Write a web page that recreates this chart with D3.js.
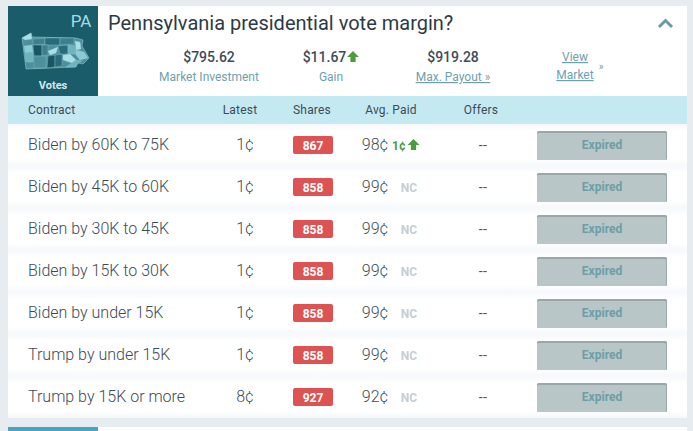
<!DOCTYPE html>
<html>
<head>
<meta charset="utf-8">
<script src="https://cdn.jsdelivr.net/npm/d3@7"></script>
<style>
  html, body { margin: 0; padding: 0; background: #e6ecef; overflow: hidden; }
  text { font-family: Roboto, sans-serif; font-variant-ligatures: none; }
</style>
</head>
<body>
<svg id="svg"></svg>
<script>
// Table contents
const columns = ["Contract", "Latest", "Shares", "Avg. Paid", "Offers"];
const contracts = ["Biden by 60K to 75K", "Biden by 45K to 60K", "Biden by 30K to 45K", "Biden by 15K to 30K", "Biden by under 15K", "Trump by under 15K", "Trump by 15K or more"];
const latest = [1, 1, 1, 1, 1, 1, 8];
const shares = [867, 858, 858, 858, 858, 858, 927];
const avgPaid = [98, 99, 99, 99, 99, 99, 92];
const change = ["1¢", "NC", "NC", "NC", "NC", "NC", "NC"];
const summaryValues = ["$795.62", "$11.67", "$919.28"];
const summaryLabels = ["Market Investment", "Gain", "Max. Payout »"];

const width = 693;
const height = 431;
const svg = d3.select("#svg").attr("width", width).attr("height", height).style("display", "block");

const dark = "#3d4b57";
const teal = "#6f9fae";
const green = "#4a9c3f";

// Soft row shading
const defs = svg.append("defs");
const grad = defs.append("linearGradient").attr("id", "rowShade").attr("x1", 0).attr("x2", 0).attr("y1", 0).attr("y2", 1);
grad.append("stop").attr("offset", "0%").attr("stop-color", "#f7f8fb");
grad.append("stop").attr("offset", "18%").attr("stop-color", "#ffffff");
grad.append("stop").attr("offset", "82%").attr("stop-color", "#ffffff");
grad.append("stop").attr("offset", "100%").attr("stop-color", "#f7f8fb");

// Card
svg.append("rect").attr("x", 8).attr("y", 6).attr("width", 679).attr("height", 412).attr("fill", "#fff");

// Thumbnail
svg.append("rect").attr("x", 8).attr("y", 6).attr("width", 90).attr("height", 90).attr("fill", "#1a5c69");
svg.append("text").attr("x", 81).attr("y", 27).attr("text-anchor", "middle")
    .style("font-size", "17px").style("fill", "#a5dbe4").text("PA");
svg.append("text").attr("x", 53).attr("y", 89).attr("text-anchor", "middle")
    .style("font-size", "11px").style("font-weight", 700).style("fill", "#d5e8ec").text("Votes");

// State outline with county blocks
const map = svg.append("g");
map.append("path")
    .attr("d", "M22,38 L31,33 L32,37 L76,38 L83,40 L82,46 L89,58 L83,64 L78,63 L76,67 L26,69 Z")
    .attr("fill", "#4d8f9c").attr("stroke", "#a5d3dc").attr("stroke-width", 0.5);
const blocks = [
    ["M22,38 L31,33 L32,39 L25,40 Z", "#a9dfe7"],
    ["M24,46 L32,45 L33,52 L25,53 Z", "#8ccbd6"],
    ["M25,53 L33,52 L33,62 L26,62 Z", "#6fb3bf"],
    ["M33,39 L45,38 L45,44 L33,45 Z", "#3f7f8d"],
    ["M33,45 L42,45 L42,56 L34,56 Z", "#1a5563"],
    ["M45,38 L60,38 L60,45 L45,45 Z", "#2a6b79"],
    ["M42,45 L48,45 L48,55 L42,56 Z", "#3f7f8d"],
    ["M48,51 L58,47 L56,53 L50,55 Z", "#a9dfe7"],
    ["M34,56 L46,56 L46,68 L34,68 Z", "#4d8f9c"],
    ["M48,56 L55,55 L55,67 L47,68 Z", "#1a5563"],
    ["M55,55 L62,54 L62,66 L55,67 Z", "#2a6b79"],
    ["M60,38 L74,38 L74,44 L60,45 Z", "#3f7f8d"],
    ["M58,46 L68,45 L68,54 L60,54 Z", "#2a6b79"],
    ["M75,41 L80,42 L81,49 L76,50 Z", "#a9dfe7"],
    ["M68,45 L76,46 L76,54 L68,54 Z", "#6fb3bf"],
    ["M76,50 L84,52 L88,58 L80,60 L76,55 Z", "#8ccbd6"],
    ["M63,55 L70,54 L76,60 L72,63 L63,60 Z", "#a9dfe7"],
    ["M72,63 L76,60 L82,61 L78,63 L75,67 L66,67 Z", "#6fb3bf"]
];
map.selectAll("path.block").data(blocks).join("path")
    .attr("class", "block")
    .attr("d", d => d[0])
    .attr("fill", d => d[1])
    .attr("stroke", "#8fc4ce")
    .attr("stroke-width", 0.4);

// Title and chevron
svg.append("text").attr("x", 108).attr("y", 30)
    .style("font-size", "20px").style("fill", "#2c3a47")
    .text("Pennsylvania presidential vote margin?");
svg.append("path").attr("d", "M659,27 L665.5,20.5 L672,27")
    .attr("fill", "none").attr("stroke", "#6b9ba6").attr("stroke-width", 3);

// Summary block
const summaryX = d3.scalePoint().domain(summaryLabels).range([209, 453]);
const summary = svg.append("g").selectAll("g").data(summaryLabels).join("g");
summary.append("text")
    .attr("x", d => d === "Gain" ? summaryX(d) - 6.5 : summaryX(d))
    .attr("y", 62).attr("text-anchor", "middle")
    .style("font-size", "14px").style("font-weight", 500).style("fill", dark)
    .text((d, i) => summaryValues[i]);
summary.append("text")
    .attr("x", d => summaryX(d))
    .attr("y", 81).attr("text-anchor", "middle")
    .style("font-size", "12px").style("fill", teal)
    .style("text-decoration", d => d.startsWith("Max") ? "underline" : "none")
    .text(d => d);

function upArrow(g, cx, top) {
    g.append("path")
        .attr("d", `M${cx},${top} L${cx + 6},${top + 6} L${cx + 2.6},${top + 6} L${cx + 2.6},${top + 11} L${cx - 2.6},${top + 11} L${cx - 2.6},${top + 6} L${cx - 6},${top + 6} Z`)
        .attr("fill", green);
}
upArrow(svg, 353, 51);

// View Market link
svg.append("text").attr("x", 575).attr("y", 61).attr("text-anchor", "middle")
    .style("font-size", "12px").style("fill", teal).style("text-decoration", "underline").text("View");
svg.append("text").attr("x", 575).attr("y", 79).attr("text-anchor", "middle")
    .style("font-size", "12px").style("fill", teal).style("text-decoration", "underline").text("Market");
svg.append("text").attr("x", 601).attr("y", 70).attr("text-anchor", "middle")
    .style("font-size", "10px").style("fill", teal).text("»");

// Header band
svg.append("rect").attr("x", 8).attr("y", 96).attr("width", 679).attr("height", 28).attr("fill", "#c5e9f1");
const columnX = d3.scaleOrdinal().domain(columns).range([28, 240, 312, 391, 481]);
svg.append("g").selectAll("text").data(columns).join("text")
    .attr("x", d => columnX(d))
    .attr("y", 114)
    .attr("text-anchor", d => d === "Contract" ? "start" : "middle")
    .style("font-size", "12px").style("fill", dark).style("letter-spacing", "0.2px")
    .text(d => d);

// Rows
const rowY = d3.scaleBand().domain(contracts).range([124, 418]);
const rows = svg.append("g").selectAll("g").data(contracts).join("g")
    .attr("transform", d => `translate(0,${rowY(d)})`);
const rowH = rowY.bandwidth();

rows.append("rect").attr("x", 8).attr("y", 0).attr("width", 679).attr("height", rowH)
    .attr("fill", "url(#rowShade)");

rows.append("text").attr("x", 28).attr("y", 26)
    .style("font-size", "16px").style("font-weight", 300).style("fill", dark)
    .text(d => d);

rows.append("text").attr("x", 245).attr("y", 26).attr("text-anchor", "middle")
    .style("font-size", "16px").style("font-weight", 300).style("fill", dark)
    .text((d, i) => latest[i] + "¢");

rows.append("rect").attr("x", 293).attr("y", 12).attr("width", 40).attr("height", 18).attr("rx", 2)
    .attr("fill", "#dd5353");
rows.append("text").attr("x", 313).attr("y", 25.5).attr("text-anchor", "middle")
    .style("font-size", "12px").style("font-weight", 700).style("fill", "#fff")
    .text((d, i) => shares[i]);

rows.append("text").attr("x", 375).attr("y", 26).attr("text-anchor", "middle")
    .style("font-size", "16px").style("font-weight", 300).style("fill", dark)
    .text((d, i) => avgPaid[i] + "¢");

rows.append("text")
    .attr("x", (d, i) => change[i] === "NC" ? 409 : 399)
    .attr("y", 25.5).attr("text-anchor", "middle")
    .style("font-size", "12px").style("font-weight", 700)
    .style("fill", (d, i) => change[i] === "NC" ? "#c5ced3" : green)
    .text((d, i) => change[i]);
rows.filter((d, i) => change[i] !== "NC").each(function () {
    upArrow(d3.select(this), 413.5, 15);
});

rows.append("text").attr("x", 483).attr("y", 26).attr("text-anchor", "middle")
    .style("font-size", "14px").style("fill", "#4a5763").style("letter-spacing", "0.5px").text("--");

// Expired buttons
rows.append("rect").attr("x", 537).attr("y", 7).attr("width", 130).attr("height", 29).attr("rx", 1.5)
    .attr("fill", "#98a8a8");
rows.append("rect").attr("x", 537).attr("y", 9).attr("width", 129).attr("height", 27).attr("rx", 1.5)
    .attr("fill", "#b8c6c7");
rows.append("text").attr("x", 602).attr("y", 25).attr("text-anchor", "middle")
    .style("font-size", "12px").style("font-weight", 700).style("fill", "#6c9ea8")
    .text("Expired");

// Start of the next card
svg.append("rect").attr("x", 98).attr("y", 427).attr("width", 589).attr("height", 4).attr("fill", "#fff");
svg.append("rect").attr("x", 8).attr("y", 427).attr("width", 90).attr("height", 4).attr("fill", "#4da3c4");
</script>
</body>
</html>
